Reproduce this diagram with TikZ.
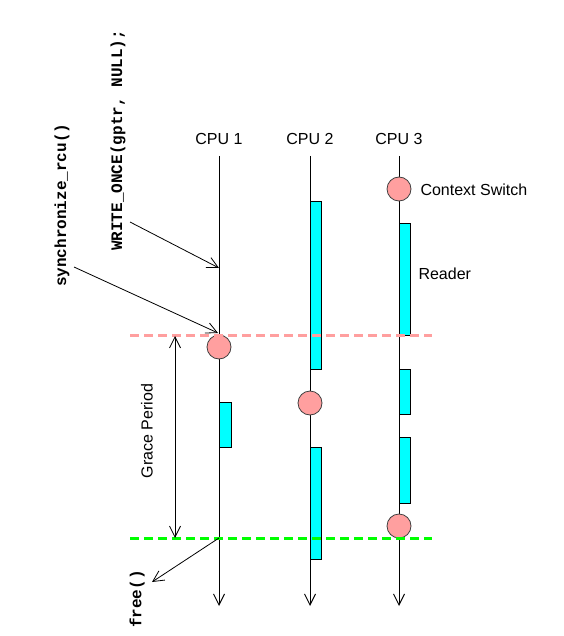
\documentclass[tikz,border=0pt]{standalone}
\usepackage{fontspec}
\setmainfont{Liberation Sans}
\setmonofont{Liberation Mono}
\usetikzlibrary{arrows.meta}
\definecolor{qspink}{HTML}{FF9F9F}
\definecolor{rdcyan}{HTML}{00FFFF}
\definecolor{gpgreen}{HTML}{00FF00}
\tikzset{
	cpulabel/.style={font=\fontsize{16}{19}\selectfont},
	codelabel/.style={rotate=90, anchor=west, inner sep=0pt, font=\fontsize{16}{18}\selectfont\ttfamily\bfseries},
	reader/.style={draw=black, fill=rdcyan, line width=0.9pt},
	qstate/.style={circle, draw=black!75, fill=qspink, line width=0.8pt, minimum size=24pt, inner sep=0pt},
	timeline/.style={line width=1pt, -{Straight Barb[length=11pt, width=11pt]}},
	pointer/.style={line width=0.8pt, -{Straight Barb[length=11pt, width=11pt]}},
	gpline/.style={line width=3pt, dash pattern=on 9pt off 5pt},
}
\begin{document}
\begin{tikzpicture}[x=1pt, y=-1pt]
			%%%%% START %%%%%
			\useasboundingbox (0,0) rectangle (563,636);
			
			% CPU time lines
			\node[cpulabel] (cpu1) at (219,139) {CPU 1};
			\node[cpulabel] (cpu2) at (310,139) {CPU 2};
			\node[cpulabel] (cpu3) at (399,139) {CPU 3};
			\coordinate (top1) at (219,156);
			\coordinate (top2) at (310,156);
			\coordinate (top3) at (399,156);
			\coordinate (end1) at (219,606);
			\coordinate (end2) at (310,606);
			\coordinate (end3) at (399,606);
			\draw[timeline] (top1) -- (end1);
			\draw[timeline] (top2) -- (end2);
			\draw[timeline] (top3) -- (end3);
			
			% readers
			\draw[reader] (219,402) rectangle (231,447);
			\draw[reader] (310,201) rectangle (321,369);
			\draw[reader] (310,447) rectangle (321,559);
			\draw[reader] (399,223) rectangle (410,335);
			\draw[reader] (399,369) rectangle (410,414);
			\draw[reader] (399,437) rectangle (410,503);
			
			% context switches
			\node[qstate] (cs1) at (219,347) {};
			\node[qstate] (cs2) at (310,403) {};
			\node[qstate] (cs3) at (399,189) {};
			\node[qstate] (cs4) at (399,526) {};
			
			\node[cpulabel, anchor=west] (cslabel) at (417,190) {Context Switch};
			\node[cpulabel, anchor=west] (rdlabel) at (415,274) {Reader};
			
			% grace period
			\draw[gpline, color=qspink] (130,335) -- (432,335);
			\draw[gpline, color=gpgreen] (130,538) -- (432,538);
			\coordinate (gpstart) at (175,336);
			\coordinate (gpend) at (175,538);
			\draw[pointer, {Straight Barb[length=11pt, width=11pt]}-{Straight Barb[length=11pt, width=11pt]}] (gpstart) -- (gpend);
			\node[cpulabel, rotate=90] (gplabel) at (147,431) {Grace Period};
			
			% updater code
			\node[codelabel] (wonce) at (118,251) {WRITE\_ONCE(gptr, NULL);};
			\node[codelabel] (sync) at (62,287) {synchronize\_rcu()};
			\node[codelabel] (free) at (137,628) {free()};
			\coordinate (wofrom) at (130,222);
			\coordinate (woto) at (219,268);
			\coordinate (syfrom) at (74,267);
			\coordinate (syto) at (218,333);
			\coordinate (frfrom) at (219,538);
			\coordinate (frto) at (152,582);
			\draw[pointer] (wofrom) -- (woto);
			\draw[pointer] (syfrom) -- (syto);
			\draw[pointer] (frfrom) -- (frto);
			
			%%%%% END %%%%%
\end{tikzpicture}
\end{document}
